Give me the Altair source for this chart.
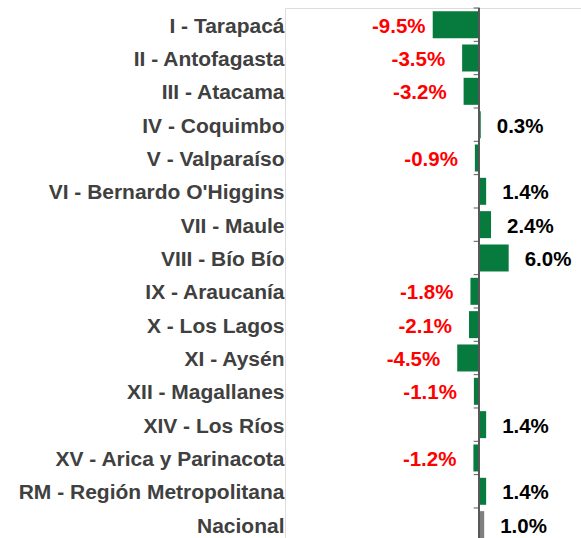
import altair as alt
import pandas as pd

regions = ["I - Tarapacá", "II - Antofagasta", "III - Atacama", "IV - Coquimbo",
           "V - Valparaíso", "VI - Bernardo O'Higgins", "VII - Maule", "VIII - Bío Bío",
           "IX - Araucanía", "X - Los Lagos", "XI - Aysén", "XII - Magallanes",
           "XIV - Los Ríos", "XV - Arica y Parinacota", "RM - Región Metropolitana", "Nacional"]
values = [-9.5, -3.5, -3.2, 0.3, -0.9, 1.4, 2.4, 6.0, -1.8, -2.1, -4.5, -1.1, 1.4, -1.2, 1.4, 1.0]
labels = ["-9.5%", "-3.5%", "-3.2%", "0.3%", "-0.9%", "1.4%", "2.4%", "6.0%", "-1.8%",
          "-2.1%", "-4.5%", "-1.1%", "1.4%", "-1.2%", "1.4%", "1.0%"]
kinds = ["Región"] * 15 + ["Nacional"]

df = pd.DataFrame({"region": regions, "value": values, "label": labels, "kind": kinds})

FONT = "Liberation Sans"
GREEN = "#077A3D"
GRAY = "#7F7F7F"
AXIS_GRAY = "#595959"

y_axis = alt.Axis(title=None, domain=False, ticks=False, labelPadding=1, labelFont=FONT,
                  labelFontWeight="bold", labelFontSize=21, labelColor="#404040",
                  labelLimit=0, labelOffset=2)
y_enc = alt.Y("region:N", sort=regions, scale=alt.Scale(paddingInner=0, paddingOuter=0),
              axis=y_axis)
x_scale = alt.Scale(domain=[-39.65, 20.76], nice=False)

base = alt.Chart(df)

bars = base.mark_bar(height={"band": 0.81}).encode(
    x=alt.X("value:Q", scale=x_scale, axis=None),
    x2=alt.X2(datum=0),
    y=y_enc,
    color=alt.Color("kind:N", scale=alt.Scale(domain=["Región", "Nacional"], range=[GREEN, GRAY]),
                    legend=None),
)

ticks = base.mark_rule(color=AXIS_GRAY, strokeWidth=1).encode(
    x=alt.X(datum=0, axis=None),
    x2=alt.X2(datum=-1.15),
    y=alt.Y("region:N", sort=regions, bandPosition=0, axis=y_axis),
)

zero_line = base.mark_rule(color=AXIS_GRAY, strokeWidth=1).encode(
    x=alt.X(datum=0, axis=None),
)

neg_text = base.transform_filter("datum.value < 0").transform_calculate(
    lx="max(datum.value, -7.5)"
).mark_text(align="right", baseline="middle", dx=-17, dy=2, font=FONT, fontSize=20.5,
            fontWeight="bold", color="#FF0000").encode(
    x=alt.X("lx:Q", axis=None),
    y=y_enc,
    text="label:N",
)

pos_text = base.transform_filter("datum.value >= 0").mark_text(
    align="left", baseline="middle", dx=16, dy=2, font=FONT, fontSize=20.5,
    fontWeight="bold", color="#000000").encode(
    x=alt.X("value:Q", axis=None),
    y=y_enc,
    text="label:N",
)

chart = alt.layer(bars, ticks, zero_line, neg_text, pos_text).properties(
    width=296,
    height=533.3,
    autosize=alt.AutoSizeParams(type="none"),
    padding={"left": 285, "top": 8, "right": 0, "bottom": 0},
).configure_view(stroke=None).configure(background="white")

chart.save("out.html", embed_options={"renderer": "svg", "actions": False})
